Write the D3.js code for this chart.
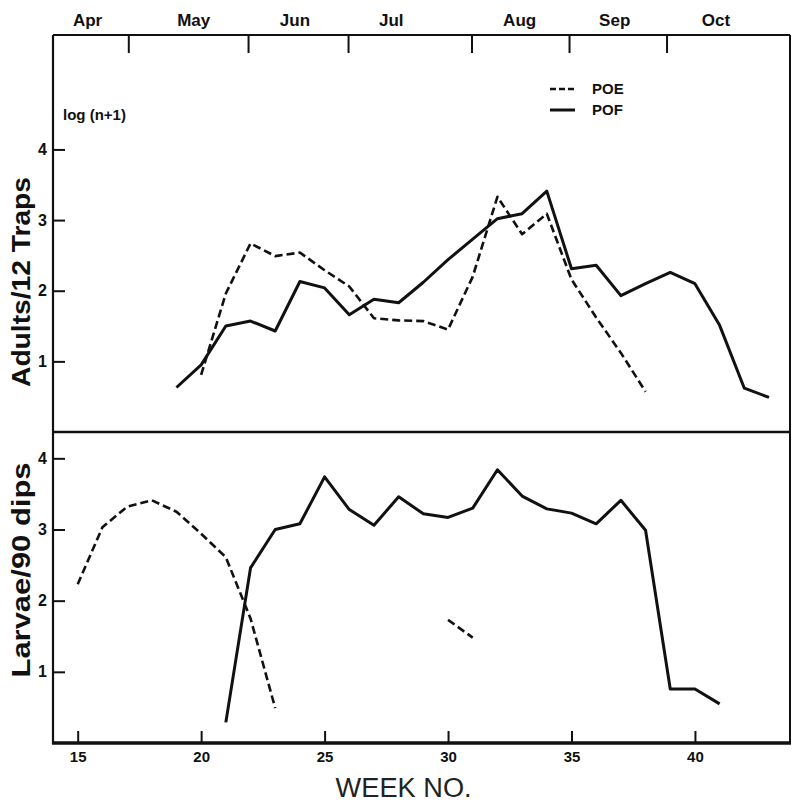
<!DOCTYPE html>
<html>
<head>
<meta charset="utf-8">
<script src="https://cdn.jsdelivr.net/npm/d3@7"></script>
<style>
  body { margin: 0; background: #fff; }
  text { font-family: "Liberation Sans", Arial, sans-serif; fill: #111; }
</style>
</head>
<body>
<div id="wrapper"></div>
<script>
// month strip along the top (positions in week numbers)
const months = ['Apr', 'May', 'Jun', 'Jul', 'Aug', 'Sep', 'Oct']
const monthCenters = [15.4, 19.7, 23.8, 27.7, 32.9, 36.75, 40.85]
const monthBounds = [17.05, 21.9, 25.95, 30.95, 34.9, 38.85]

const weekTicks = [15, 20, 25, 30, 35, 40]
const valueTicks = [1, 2, 3, 4]

// Adults / 12 traps, log(n+1)
const adultWeeksPOE = [20, 21, 22, 23, 24, 25, 26, 27, 28, 29, 30, 31, 32, 33, 34, 35, 36, 37, 38]
const adultPOE = [0.81, 1.96, 2.67, 2.49, 2.54, 2.29, 2.06, 1.61, 1.58, 1.57, 1.45, 2.2, 3.33, 2.8, 3.09, 2.16, 1.62, 1.12, 0.57]
const adultWeeksPOF = [19, 20, 21, 22, 23, 24, 25, 26, 27, 28, 29, 30, 31, 32, 33, 34, 35, 36, 37, 38, 39, 40, 41, 42, 43]
const adultPOF = [0.63, 0.95, 1.5, 1.57, 1.43, 2.13, 2.04, 1.66, 1.88, 1.83, 2.12, 2.44, 2.73, 3.02, 3.09, 3.41, 2.31, 2.36, 1.93, 2.1, 2.26, 2.1, 1.51, 0.62, 0.49]

// Larvae / 90 dips, log(n+1)
const larvaWeeksPOE = [15, 16, 17, 18, 19, 20, 21, 22, 23, 24, 25, 26, 27, 28, 29, 30, 31]
const larvaPOE = [2.23, 3.03, 3.32, 3.41, 3.25, 2.94, 2.61, 1.75, 0.49, null, null, null, null, null, null, 1.73, 1.48]
const larvaWeeksPOF = [21, 22, 23, 24, 25, 26, 27, 28, 29, 30, 31, 32, 33, 34, 35, 36, 37, 38, 39, 40, 41]
const larvaPOF = [0.29, 2.46, 3.0, 3.08, 3.74, 3.28, 3.06, 3.46, 3.22, 3.17, 3.3, 3.84, 3.47, 3.29, 3.23, 3.08, 3.41, 2.99, 0.76, 0.76, 0.55]

const zip = (ws, vs) => ws.map((w, i) => ({ w: w, v: vs[i] }))

let dims = {
    width: 798,
    height: 805,
    left: 53,
    right: 790,
    top: 35,
    mid: 432,
    bottom: 743
}

const svg = d3.select('#wrapper').append('svg')
    .attr('width', dims.width)
    .attr('height', dims.height)

const xScale = d3.scaleLinear()
    .domain([14, 43.85])
    .range([dims.left, dims.right])

const yTop = d3.scaleLinear()
    .domain([0, 5.62])
    .range([dims.mid, dims.top])

const yBot = d3.scaleLinear()
    .domain([0, 4.37])
    .range([dims.bottom, dims.mid])

// frame
svg.append('line')
    .attr('x1', dims.left).attr('x2', dims.right)
    .attr('y1', dims.top).attr('y2', dims.top)
    .attr('stroke', '#111').attr('stroke-width', 2)
svg.append('line')
    .attr('x1', dims.right).attr('x2', dims.right)
    .attr('y1', dims.top).attr('y2', dims.bottom)
    .attr('stroke', '#111').attr('stroke-width', 2)
svg.append('line')
    .attr('x1', dims.left).attr('x2', dims.right)
    .attr('y1', dims.mid).attr('y2', dims.mid)
    .attr('stroke', '#111').attr('stroke-width', 2.5)
svg.append('line')
    .attr('x1', dims.left).attr('x2', dims.left)
    .attr('y1', dims.top).attr('y2', dims.bottom + 1)
    .attr('stroke', '#111').attr('stroke-width', 2.2)
svg.append('line')
    .attr('x1', dims.left - 1).attr('x2', dims.right + 1)
    .attr('y1', dims.bottom).attr('y2', dims.bottom)
    .attr('stroke', '#111').attr('stroke-width', 3.5)

// month ticks on top edge
const monthAxis = d3.axisTop(xScale)
    .tickValues(monthBounds)
    .tickSize(-18)
    .tickFormat('')
svg.append('g')
    .attr('transform', `translate(0, ${dims.top})`)
    .call(monthAxis)
    .call(g => g.select('.domain').remove())
    .call(g => g.selectAll('.tick line').attr('stroke', '#111').attr('stroke-width', 2))

svg.append('g').selectAll('text')
    .data(months)
    .enter()
    .append('text')
    .attr('x', (d, i) => xScale(monthCenters[i]))
    .attr('y', 26)
    .attr('text-anchor', 'middle')
    .style('font-size', '17px')
    .style('font-weight', 'bold')
    .text(d => d)

// week axis at the bottom
const weekAxis = d3.axisBottom(xScale)
    .tickValues(weekTicks)
    .tickSizeInner(-12)
    .tickSizeOuter(0)
    .tickPadding(8)
svg.append('g')
    .attr('transform', `translate(0, ${dims.bottom})`)
    .call(weekAxis)
    .call(g => g.select('.domain').remove())
    .call(g => g.selectAll('.tick line').attr('stroke', '#111').attr('stroke-width', 2))
    .call(g => g.selectAll('.tick text')
        .style('font-family', '"Liberation Sans Narrow", "Liberation Sans", sans-serif')
        .style('font-size', '15px')
        .style('font-weight', 'bold')
        .attr('fill', '#111'))

// value axes
function valueAxis(scale) {
    const ax = d3.axisLeft(scale)
        .tickValues(valueTicks)
        .tickSizeInner(-12)
        .tickSizeOuter(0)
        .tickPadding(6)
        .tickFormat(d3.format('d'))
    svg.append('g')
        .attr('transform', `translate(${dims.left}, 0)`)
        .call(ax)
        .call(g => g.select('.domain').remove())
        .call(g => g.selectAll('.tick line').attr('stroke', '#111').attr('stroke-width', 2))
        .call(g => g.selectAll('.tick text')
            .style('font-size', '16px')
            .style('font-weight', 'bold')
            .attr('fill', '#111'))
}
valueAxis(yTop)
valueAxis(yBot)

// titles
svg.append('text')
    .attr('transform', 'translate(30, 282) rotate(-90)')
    .attr('text-anchor', 'middle')
    .attr('textLength', 210)
    .attr('lengthAdjust', 'spacingAndGlyphs')
    .style('font-size', '26px')
    .style('font-weight', 'bold')
    .text('Adults/12 Traps')

svg.append('text')
    .attr('transform', 'translate(30, 570) rotate(-90)')
    .attr('text-anchor', 'middle')
    .attr('textLength', 215)
    .attr('lengthAdjust', 'spacingAndGlyphs')
    .style('font-size', '26px')
    .style('font-weight', 'bold')
    .text('Larvae/90 dips')

svg.append('text')
    .attr('x', 63)
    .attr('y', 120)
    .style('font-size', '15px')
    .style('font-weight', 'bold')
    .text('log (n+1)')

svg.append('text')
    .attr('x', xScale(28.2))
    .attr('y', 797)
    .attr('text-anchor', 'middle')
    .attr('textLength', 136)
    .attr('lengthAdjust', 'spacingAndGlyphs')
    .style('font-family', '"Liberation Sans Narrow", "Liberation Sans", sans-serif')
    .style('font-size', '27px')
    .style('fill', '#222')
    .text('WEEK NO.')

// series
function drawLine(data, yScale, dashed) {
    const line = d3.line()
        .defined(d => d.v != null)
        .x(d => xScale(d.w))
        .y(d => yScale(d.v))
    svg.append('path')
        .datum(data)
        .attr('d', line)
        .attr('fill', 'none')
        .attr('stroke', '#111')
        .attr('stroke-width', dashed ? 2.6 : 3)
        .attr('stroke-linejoin', 'round')
        .attr('stroke-dasharray', dashed ? '8,4' : null)
}

drawLine(zip(adultWeeksPOE, adultPOE), yTop, true)
drawLine(zip(adultWeeksPOF, adultPOF), yTop, false)
drawLine(zip(larvaWeeksPOE, larvaPOE), yBot, true)
drawLine(zip(larvaWeeksPOF, larvaPOF), yBot, false)

// legend
const legend = svg.append('g').attr('transform', 'translate(550, 89)')
const legendItems = [{ name: 'POE', dash: '6,3' }, { name: 'POF', dash: null }]
legendItems.forEach((item, i) => {
    legend.append('line')
        .attr('x1', 0).attr('x2', 25)
        .attr('y1', i * 21).attr('y2', i * 21)
        .attr('stroke', '#111')
        .attr('stroke-width', i ? 3 : 2.5)
        .attr('stroke-dasharray', item.dash)
    legend.append('text')
        .attr('x', 42)
        .attr('y', i * 21 + 5)
        .style('font-size', '15px')
        .style('font-weight', 'bold')
        .text(item.name)
})
</script>
</body>
</html>
